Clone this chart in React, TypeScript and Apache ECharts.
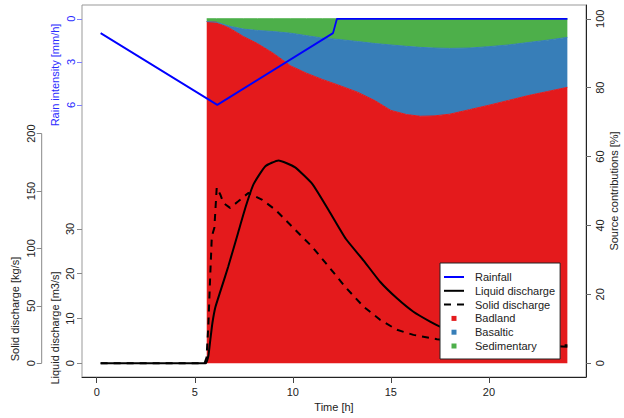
import React, { useEffect, useRef } from "react";
import * as echarts from "echarts";

// ---- tick labels ----
const xTicks = [0, 5, 10, 15, 20];
const pctTicks = [0, 20, 40, 60, 80, 100];
const rainTicks = [0, 3, 6];
const liquidTicks = [0, 10, 20, 30];
const solidTicks = [0, 50, 100, 150, 200];

// ---- rainfall [mm/h] ----
const rainTime = [0.2, 6.15, 12.05, 12.25, 24];
const rainValues = [1, 6, 1, 0, 0];

// ---- liquid discharge [m3/s] ----
const liquidTime = [0.2, 5.55, 5.62, 5.7, 5.8, 5.9, 6.05, 6.3, 6.7, 7.2, 7.6, 8.0, 8.6, 9.27, 10.1, 11.0, 11.85, 12.7, 13.6, 14.45, 15.31, 16.15, 17.0, 17.5, 18, 19, 20, 21, 22, 23, 24];
const liquidValues = [0, 0, 0.5, 1.8, 5.5, 9, 12.5, 16, 21.5, 29, 35, 40, 44, 45.3, 43.8, 40, 34, 27.8, 23.0, 18.2, 14.5, 11.5, 9.3, 8.2, 7.4, 6.2, 5.3, 4.7, 4.2, 3.9, 3.7];

// ---- solid discharge [kg/s] ----
const solidTime = [0.2, 5.5, 5.6, 5.69, 5.78, 5.87, 6.0, 6.12, 6.3, 6.46, 6.8, 7.22, 7.73, 8.42, 9.1, 10.12, 10.97, 11.82, 12.7, 13.6, 14.45, 15.31, 16.15, 17.35, 18, 19, 20, 21, 22, 23, 24];
const solidValues = [0, 0, 5, 31.9, 72.7, 110.5, 118, 153, 147, 139.6, 135.3, 141.0, 148.3, 142.5, 133.8, 116.3, 101.7, 84.3, 66, 49.4, 37.8, 29.1, 24.7, 20.9, 19.8, 18.6, 17.8, 17.0, 16.4, 16.0, 15.6];

// ---- source contributions [%] ----
const srcTime = [5.61, 6.1, 6.8, 7.5, 8.2, 9.0, 9.9, 10.7, 11.5, 12.3, 13.3, 14.2, 15.0, 15.8, 16.5, 17.2, 18.0, 19.0, 20.0, 21.0, 22.0, 23.0, 24.0];
const badland = [99.2, 99.0, 97.2, 94.8, 92.8, 90.0, 86.3, 84.2, 82.4, 80.8, 78.7, 76.2, 73.4, 72.2, 71.7, 71.8, 72.3, 73.6, 74.9, 76.3, 77.7, 78.9, 80.1];
const basaltic = [0, 0, 0.6, 2.2, 3.8, 6.3, 9.5, 10.9, 12.0, 13.2, 14.7, 16.6, 19.0, 19.8, 20.0, 19.7, 19.1, 17.9, 17.0, 16.1, 15.4, 14.9, 14.5];
const sedimentary = [0.8, 1.0, 2.2, 3.0, 3.4, 3.7, 4.2, 4.9, 5.6, 6.0, 6.6, 7.2, 7.6, 8.0, 8.3, 8.5, 8.6, 8.5, 8.1, 7.6, 6.9, 6.2, 5.4];

const FONT = "'Liberation Sans', Arial, Helvetica, sans-serif";
const TXT = "#222";
const RED = "#E41A1C";
const BLUE = "#377EB8";
const GREEN = "#4DAF4A";
const RAIN = "#0000FF";
const RAIN_TXT = "#2b2bff";
const SQ = "path://M0,0H10V10H0Z";
const CLEAR = "rgba(0,0,0,0)";

const GRID_LEFT = 82;
const SOLID_OFFSET = 40.3;

const pairs = (t: number[], v: number[]) => t.map((x, i) => [x, v[i]]);
// value first, time second: makes the value (y) the stacked dimension
const valueFirst = (t: number[], v: number[]) => t.map((x, i) => [v[i], x]);

export default function App() {
  const ref = useRef<HTMLDivElement>(null);
  useEffect(() => {
    const chart = echarts.init(ref.current!, undefined, { renderer: "svg" });
    const labelStyle = { fontSize: 11, color: TXT, fontFamily: FONT };
    const areaSeries = (name: string, values: number[], color: string) => ({
      name, type: "line", stack: "src", yAxisIndex: 0,
      data: valueFirst(srcTime, values), encode: { x: 1, y: 0 },
      symbol: "none", showSymbol: false, lineStyle: { width: 1, color },
      itemStyle: { color }, areaStyle: { color, opacity: 1 }, z: 1,
    });
    const option: any = {
      animation: false,
      grid: { left: GRID_LEFT, right: 38, top: 5, bottom: 41, show: true, borderColor: "#999", borderWidth: 1, backgroundColor: "transparent" },
      xAxis: {
        type: "value", min: -0.75, max: 24.95,
        axisLine: { show: true, onZero: false, lineStyle: { color: "#222", width: 1 } },
        axisTick: { show: true, customValues: xTicks, length: 6, lineStyle: { color: "#444" } },
        axisLabel: { customValues: xTicks, margin: 9, ...labelStyle },
        splitLine: { show: false },
        name: "Time [h]", nameLocation: "middle", nameGap: 24,
        nameTextStyle: { ...labelStyle },
      },
      yAxis: [
        {
          type: "value", position: "right", min: -4, max: 104,
          axisLine: { show: true, onZero: false, lineStyle: { color: "#222" } },
          axisTick: { show: true, customValues: pctTicks, length: 5, lineStyle: { color: "#666" } },
          axisLabel: { customValues: pctTicks, rotate: 90, margin: 8, ...labelStyle },
          splitLine: { show: false },
        },
        {
          type: "value", position: "left", inverse: true, min: -0.96, max: 24.96,
          axisLine: { show: false, onZero: false },
          axisTick: { show: true, customValues: rainTicks, length: 5, lineStyle: { color: "#8080ff" } },
          axisLabel: { customValues: rainTicks, rotate: 90, margin: 6, ...labelStyle, color: RAIN_TXT },
          splitLine: { show: false },
        },
        {
          type: "value", position: "left", min: -3.06, max: 80,
          axisLine: { show: false, onZero: false },
          axisTick: { show: true, customValues: liquidTicks, length: 5, lineStyle: { color: "#888" } },
          axisLabel: { customValues: liquidTicks, rotate: 90, margin: 7, ...labelStyle },
          splitLine: { show: false },
        },
        {
          type: "value", position: "left", offset: SOLID_OFFSET, min: -12, max: 312,
          axisLine: { show: false, onZero: false },
          axisTick: { show: true, customValues: solidTicks, length: 5, lineStyle: { color: "#888" } },
          axisLabel: { customValues: solidTicks, rotate: 90, margin: 5, ...labelStyle },
          splitLine: { show: false },
        },
      ],
      legend: {
        orient: "vertical", left: 440, top: 263,
        padding: [7.5, 5, 6.5, 3],
        backgroundColor: "#fff", borderColor: "#222", borderWidth: 1, borderRadius: 0,
        itemWidth: 20, itemHeight: 5, itemGap: 0.8,
        selectedMode: false,
        textStyle: { fontSize: 11, color: TXT, fontFamily: FONT, lineHeight: 13, padding: [0, 0, 0, 6] },
        data: [
          { name: "Rainfall" },
          { name: "Liquid discharge" },
          { name: "Solid discharge" },
          { name: "Badland", icon: SQ, itemStyle: { color: RED } },
          { name: "Basaltic", icon: SQ, itemStyle: { color: BLUE } },
          { name: "Sedimentary", icon: SQ, itemStyle: { color: GREEN } },
        ],
      },
      series: [
        areaSeries("Badland", badland, RED),
        areaSeries("Basaltic", basaltic, BLUE),
        areaSeries("Sedimentary", sedimentary, GREEN),
        {
          name: "Rainfall", type: "line", yAxisIndex: 1, data: pairs(rainTime, rainValues),
          symbol: "none", showSymbol: false, lineStyle: { color: RAIN, width: 1.8 }, itemStyle: { color: CLEAR }, z: 3,
        },
        {
          name: "Liquid discharge", type: "line", yAxisIndex: 2, data: pairs(liquidTime, liquidValues),
          symbol: "none", showSymbol: false, smooth: 0.15, lineStyle: { color: "#000", width: 2 }, itemStyle: { color: CLEAR }, z: 3,
        },
        {
          name: "Solid discharge", type: "line", yAxisIndex: 3, data: pairs(solidTime, solidValues),
          symbol: "none", showSymbol: false, lineStyle: { color: "#000", width: 2, type: [7, 6] }, itemStyle: { color: CLEAR }, z: 3,
        },
      ],
    };
    chart.setOption(option);

    const axX = GRID_LEFT - SOLID_OFFSET;
    const y0 = chart.convertToPixel({ yAxisIndex: 3 } as any, solidTicks[0]) as unknown as number;
    const y1 = chart.convertToPixel({ yAxisIndex: 3 } as any, solidTicks[solidTicks.length - 1]) as unknown as number;
    const titleStyle = (text: string, fill: string) => ({ text, fill, fontSize: 11, fontFamily: FONT, align: "center", verticalAlign: "middle" });
    chart.setOption({
      graphic: [
        { type: "line", shape: { x1: axX, y1: y0, x2: axX, y2: y1 }, style: { stroke: "#888", lineWidth: 1 }, silent: true },
        { type: "text", x: 55, y: 75, rotation: Math.PI / 2, style: titleStyle("Rain intensity [mm/h]", RAIN_TXT) },
        { type: "text", x: 55, y: 328, rotation: Math.PI / 2, style: titleStyle("Liquid discharge [m3/s]", TXT) },
        { type: "text", x: 15, y: 309, rotation: Math.PI / 2, style: titleStyle("Solid discharge [kg/s]", TXT) },
        { type: "text", x: 614, y: 191, rotation: Math.PI / 2, style: titleStyle("Source contributions [%]", TXT) },
      ],
    });
    return () => chart.dispose();
  }, []);
  return <div ref={ref} style={{ position: "absolute", left: 0, top: 0, width: 624, height: 418 }} />;
}
